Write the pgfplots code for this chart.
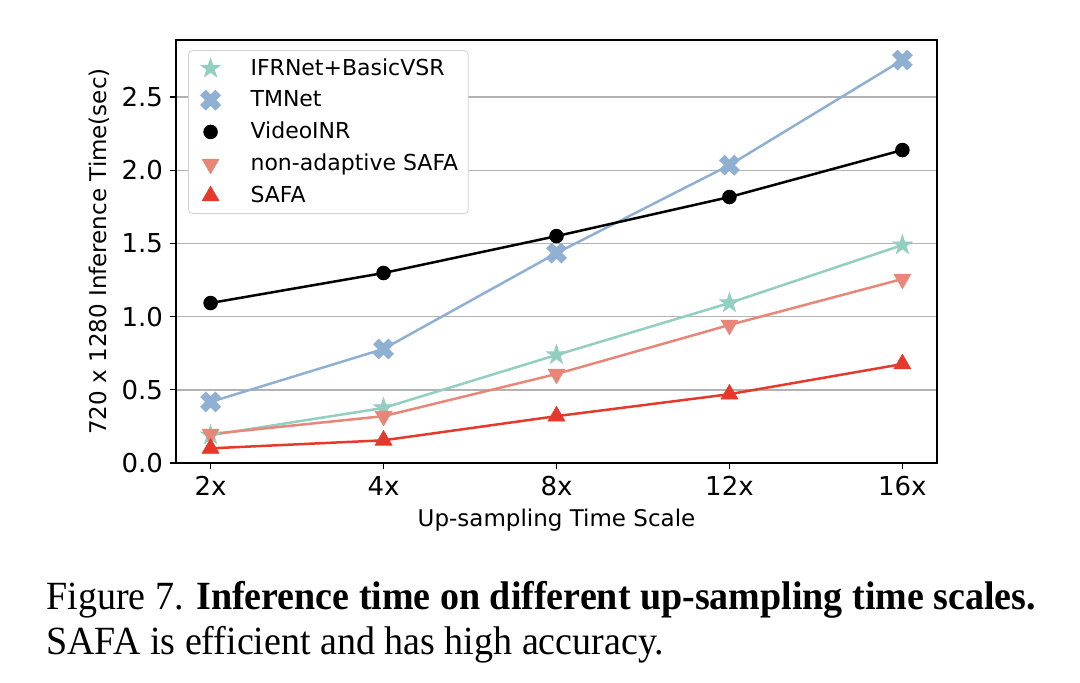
\documentclass[border=0pt]{standalone}
\usepackage{pgfplots}
\pgfplotsset{compat=1.18}
\usepackage{fontspec}
\setmainfont{DejaVu Sans}
\newfontfamily\capfont{Liberation Serif}
\usetikzlibrary{plotmarks}
\definecolor{cIFR}{HTML}{93CFC0}
\definecolor{cTM}{HTML}{8FB0D3}
\definecolor{cNA}{HTML}{E8867A}
\definecolor{cSAFA}{HTML}{E53A2B}
\pgfdeclareplotmark{fstar}{%
  \pgfpathmoveto{\pgfqpoint{0pt}{1\pgfplotmarksize}}%
  \pgfpathlineto{\pgfqpoint{-0.2245\pgfplotmarksize}{0.309\pgfplotmarksize}}%
  \pgfpathlineto{\pgfqpoint{-0.951\pgfplotmarksize}{0.309\pgfplotmarksize}}%
  \pgfpathlineto{\pgfqpoint{-0.363\pgfplotmarksize}{-0.118\pgfplotmarksize}}%
  \pgfpathlineto{\pgfqpoint{-0.588\pgfplotmarksize}{-0.809\pgfplotmarksize}}%
  \pgfpathlineto{\pgfqpoint{0pt}{-0.382\pgfplotmarksize}}%
  \pgfpathlineto{\pgfqpoint{0.588\pgfplotmarksize}{-0.809\pgfplotmarksize}}%
  \pgfpathlineto{\pgfqpoint{0.363\pgfplotmarksize}{-0.118\pgfplotmarksize}}%
  \pgfpathlineto{\pgfqpoint{0.951\pgfplotmarksize}{0.309\pgfplotmarksize}}%
  \pgfpathlineto{\pgfqpoint{0.2245\pgfplotmarksize}{0.309\pgfplotmarksize}}%
  \pgfpathclose
  \pgfusepathqfillstroke}
\pgfdeclareplotmark{Xfill}{%
  \pgfsetlinewidth{0.75\pgfplotmarksize}%
  \pgfsetbuttcap
  \pgfpathmoveto{\pgfqpoint{-0.72\pgfplotmarksize}{-0.72\pgfplotmarksize}}%
  \pgfpathlineto{\pgfqpoint{0.72\pgfplotmarksize}{0.72\pgfplotmarksize}}%
  \pgfpathmoveto{\pgfqpoint{-0.72\pgfplotmarksize}{0.72\pgfplotmarksize}}%
  \pgfpathlineto{\pgfqpoint{0.72\pgfplotmarksize}{-0.72\pgfplotmarksize}}%
  \pgfusepathqstroke}
\begin{document}
\begin{tikzpicture}
\useasboundingbox (-88pt,-110pt) rectangle (452pt,231.5pt);
\begin{axis}[
  at={(0,0)}, anchor=south west,
  scale only axis, width=380.5pt, height=211.5pt,
  xmin=-0.2, xmax=4.2, ymin=0, ymax=2.89,
  xtick={0,1,2,3,4}, xticklabels={2x,4x,8x,12x,16x},
  ytick={0,0.5,1.0,1.5,2.0,2.5},
  yticklabel style={/pgf/number format/.cd, fixed, fixed zerofill, precision=1},
  /pgf/number format/assume math mode=true,
  tick label style={font=\fontsize{13}{15}\selectfont, black},
  label style={font=\fontsize{11.5}{13}\selectfont},
  xlabel={Up-sampling Time Scale},
  ylabel={720 x 1280 Inference Time(sec)},
  xlabel style={yshift=0pt},
  ylabel style={yshift=-1pt},
  tick align=outside, tick pos=left,
  major tick length=3pt,
  every tick/.style={black, line width=0.6pt},
  axis line style={line width=0.7pt},
  ymajorgrids, grid style={color=black!30, line width=0.7pt},
  legend style={at={(0.016,0.976)}, anchor=north west, draw=black!18, rounded corners=2pt,
    font=\fontsize{11}{12.5}\selectfont, row sep=2.2pt, inner xsep=3pt, inner ysep=2pt,
    cells={anchor=west}},
  legend image code/.code={\path[draw=none, fill=none] (0pt,0pt) -- (26pt,0pt);\draw[#1, only marks] plot coordinates {(8pt,0pt)};},
  legend cell align=left,
]
\addplot[cIFR, line width=1.25pt, mark=fstar, mark size=5.2pt, mark options={fill=cIFR, draw=cIFR, line width=0.3pt}]
  coordinates {(0,0.19) (1,0.376) (2,0.738) (3,1.093) (4,1.489)};
\addlegendentry{IFRNet+BasicVSR}
\addplot[cTM, line width=1.25pt, mark=Xfill, mark size=5.3pt, mark options={fill=cTM, draw=cTM}]
  coordinates {(0,0.417) (1,0.779) (2,1.434) (3,2.035) (4,2.753)};
\addlegendentry{TMNet}
\addplot[black, line width=1.25pt, mark=*, mark size=3pt, mark options={fill=black, draw=black}]
  coordinates {(0,1.093) (1,1.298) (2,1.55) (3,1.817) (4,2.138)};
\addlegendentry{VideoINR}
\addplot[cNA, line width=1.25pt, mark=triangle*, mark size=4.9pt, mark options={fill=cNA, draw=cNA, rotate=180, line width=0.3pt}]
  coordinates {(0,0.198) (1,0.32) (2,0.608) (3,0.943) (4,1.257)};
\addlegendentry{non-adaptive SAFA}
\addplot[cSAFA, line width=1.25pt, mark=triangle*, mark size=4.9pt, mark options={fill=cSAFA, draw=cSAFA, line width=0.3pt}]
  coordinates {(0,0.10) (1,0.155) (2,0.32) (3,0.47) (4,0.676)};
\addlegendentry{SAFA}
\end{axis}
\node[anchor=base west, inner sep=0pt] at (-65pt,-73.5pt)
  {\scalebox{0.95}[1]{\capfont\fontsize{20}{24}\selectfont Figure 7. \textbf{Inference time on different up-sampling time scales.}}};
\node[anchor=base west, inner sep=0pt] at (-65pt,-96pt)
  {\scalebox{0.95}[1]{\capfont\fontsize{20}{24}\selectfont SAFA is efficient and has high accuracy.}};
\end{tikzpicture}
\end{document}
